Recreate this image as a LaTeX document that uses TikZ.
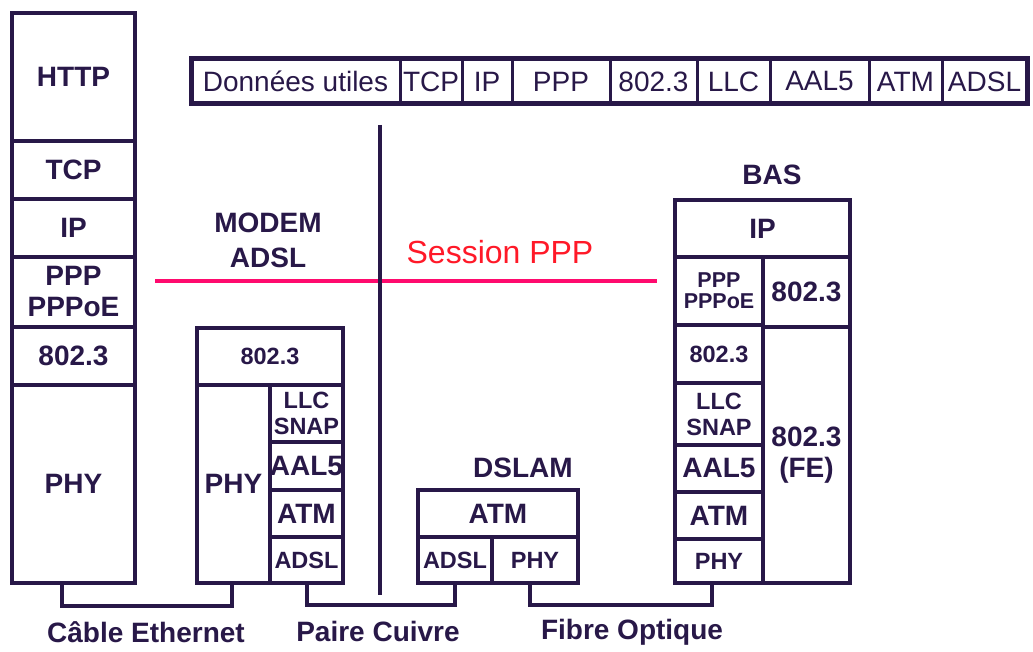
\documentclass[tikz,border=0pt]{standalone}
\usepackage{fontspec}
\setmainfont{Liberation Sans}
\definecolor{dk}{RGB}{40,24,72}
\definecolor{pk}{RGB}{255,10,110}
\definecolor{rd}{RGB}{255,25,40}
\newcommand\stk[7][]{\node[cell,#1,minimum width={#5-#3},minimum height={#6-#4}] (#2) at ({(#3+#5)/2},{(#4+#6)/2}) {#7};}
\begin{document}
\begin{tikzpicture}[x=1pt,y=-1pt,
 cell/.style={draw=dk,line width=3.5pt,inner sep=0pt,outer sep=0pt,text=dk,align=center,fill=white},
 fbig/.style={font=\bfseries\fontsize{28}{31}\selectfont},
 fsmall/.style={font=\bfseries\fontsize{23.5}{26}\selectfont},
 fsmaller/.style={font=\bfseries\fontsize{21.5}{21}\selectfont},
 hcell/.style={line width=3pt,font=\fontsize{28}{29}\selectfont},
 conn/.style={draw=dk,line width=3.5pt},
 lbl/.style={text=dk,align=center,font=\bfseries\fontsize{28}{35}\selectfont,inner sep=0pt}]
\useasboundingbox (0,0) rectangle (1033,652);
\fill[white] (0,0) rectangle (1033,652);
% header
\stk[hcell]{h1}{191}{59}{400}{104}{Données utiles}
\stk[hcell]{h2}{400}{59}{462}{104}{TCP}
\stk[hcell]{h3}{462}{59}{512}{104}{IP}
\stk[hcell]{h4}{512}{59}{610}{104}{PPP}
\stk[hcell]{h5}{610}{59}{697}{104}{802.3}
\stk[hcell]{h6}{697}{59}{770}{104}{LLC}
\stk[hcell]{h7}{770}{59}{869}{104}{AAL5}
\stk[hcell]{h8}{869}{59}{942}{104}{ATM}
\stk[hcell]{h9}{942}{59}{1027}{104}{ADSL}
\node[draw=dk,line width=5pt,inner sep=0pt,outer sep=0pt,minimum width=836pt,minimum height=45pt] (hdr) at (609,81.5) {};
% session line and separator
\coordinate (pa) at (155,281);
\coordinate (pb) at (657,281);
\draw[pk,line width=4pt] (pa) -- (pb);
\coordinate (va) at (380,125);
\coordinate (vb) at (380,595);
\draw[dk,line width=3.5pt] (va) -- (vb);
\node[text=rd,font=\fontsize{32}{34}\selectfont,inner sep=0pt] (sess) at (500,252) {Session PPP};
% left stack
\stk[fbig]{http}{12}{13}{135}{141}{HTTP}
\stk[fbig]{ltcp}{12}{141}{135}{199}{TCP}
\stk[fbig]{lip}{12}{199}{135}{257}{IP}
\stk[fbig]{lppp}{12}{257}{135}{327}{PPP\\PPPoE}
\stk[fbig]{l8023}{12}{327}{135}{385}{802.3}
\stk[fbig]{lphy}{12}{385}{135}{583}{PHY}
% modem
\node[lbl] (lmodem) at (268,240) {MODEM\\ADSL};
\stk[fsmall]{m8023}{197}{328}{343}{385}{802.3}
\stk[fbig]{mphy}{197}{385}{270}{583}{PHY}
\stk[fsmall]{mllc}{270}{385}{343}{442}{LLC\\SNAP}
\stk[fbig]{maal}{270}{442}{343}{490}{AAL5}
\stk[fbig]{matm}{270}{490}{343}{537}{ATM}
\stk[fsmall]{madsl}{270}{537}{343}{583}{ADSL}
% dslam
\node[lbl] (ldslam) at (523,468) {DSLAM};
\stk[fbig]{datm}{418}{490}{578}{537}{ATM}
\stk[fsmall]{dadsl}{418}{537}{492}{583}{ADSL}
\stk[fsmall]{dphy}{492}{537}{578}{583}{PHY}
% bas
\node[lbl] (lbas) at (772,175) {BAS};
\stk[fbig]{bip}{675}{200}{850}{257}{IP}
\stk[fsmaller]{bppp}{675}{257}{763}{325}{PPP\\PPPoE}
\stk[fbig]{b8023a}{763}{257}{850}{327}{802.3}
\stk[fsmall]{b8023}{675}{325}{763}{383}{802.3}
\stk[fsmall]{bllc}{675}{383}{763}{445}{LLC\\SNAP}
\stk[fbig]{baal}{675}{445}{763}{492}{AAL5}
\stk[fbig]{batm}{675}{492}{763}{539}{ATM}
\stk[fsmall]{bphy}{675}{539}{763}{583}{PHY}
\stk[fbig]{bfe}{763}{327}{850}{583}{802.3\\(FE)}
% connectors
\draw[conn] ([xshift=50pt]lphy.south west) -- ++(0,23) -| ([xshift=35pt]mphy.south west);
\draw[conn] ([xshift=37pt]madsl.south west) -- ++(0,22) -| ([xshift=37pt]dadsl.south west);
\draw[conn] ([xshift=38pt]dphy.south west) -- ++(0,22) -| ([xshift=37pt]bphy.south west);
% bottom labels
\node[lbl] (lcable) at (146,632) {Câble Ethernet};
\node[lbl] (lpaire) at (378,631) {Paire Cuivre};
\node[lbl] (lfibre) at (632,632) {Fibre Optique};
\end{tikzpicture}
\end{document}
